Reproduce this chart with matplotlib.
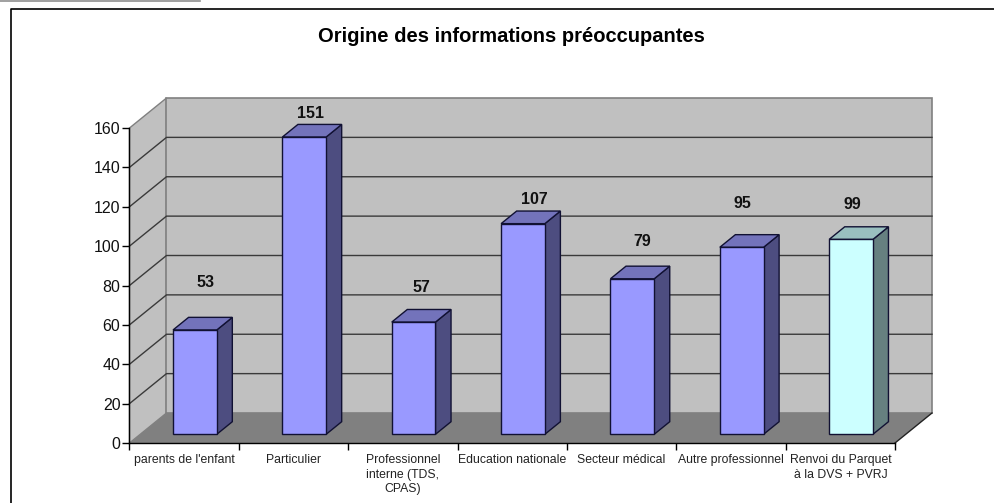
import matplotlib
matplotlib.use("Agg")
import matplotlib.pyplot as plt

plt.rcParams["font.family"] = ["Liberation Sans", "DejaVu Sans"]

categories = ["parents de l'enfant", "Particulier", "Professionnel\ninterne (TDS,\nCPAS)",
              "Education nationale", "Secteur médical", "Autre professionnel",
              "Renvoi du Parquet\nà la DVS + PVRJ"]
values = [53, 151, 57, 107, 79, 95, 99]
yticks = [0, 20, 40, 60, 80, 100, 120, 140, 160]

# pixel offset of each label from the top of the bar front
label_gaps = [47, 24, 35, 24, 37, 44, 35]
label_shift = [3, -2, 0, 4, 2, -7, -6]

face = ["#9999FF"] * 6 + ["#CCFFFF"]
side = ["#4D4D80"] * 6 + ["#668080"]
top = ["#7373BB"] * 6 + ["#99BFBF"]

W, H = 995, 503
fig = plt.figure(figsize=(W / 100, H / 100), dpi=100)
ax = fig.add_axes([129.5 / W, 1 - 443 / H, 765.5 / W, 315 / H])
ax.set_xlim(0, 7)
ax.set_ylim(0, 160)

# 3d look: how far the back wall is shifted, in data units
dx = 37 / 109.36
dy = 30 / (315 / 160)
bar_w = 0.40
d0, d1 = 0.29, 0.71


def poly(xs, ys, color, ec="none", lw=0, z=1):
    ax.fill(xs, ys, facecolor=color, edgecolor=ec, linewidth=lw, clip_on=False, zorder=z)


# walls and floor
poly([0, dx, dx, 0], [0, dy, 160 + dy, 160], "#C0C0C0", "#808080", 1, 1)
poly([dx, 7 + dx, 7 + dx, dx], [dy, dy, 160 + dy, 160 + dy], "#C0C0C0", "#808080", 1.2, 1)
poly([0, 7, 7 + dx, dx], [0, 0, dy, dy], "#808080", z=2)
ax.plot([7, 7 + dx], [0, dy], color="#222222", lw=1, clip_on=False, zorder=3)

for v in yticks[1:-1]:
    ax.plot([0, dx, 7 + dx], [v, v + dy, v + dy], color="#3A3A3A", lw=1, clip_on=False, zorder=2)

# bars
for i, v in enumerate(values):
    x0 = i + 0.5 - bar_w / 2 + d0 * dx
    x1 = x0 + bar_w
    y0 = d0 * dy
    sx = (d1 - d0) * dx
    sy = (d1 - d0) * dy
    y1 = v + y0
    poly([x1, x1 + sx, x1 + sx, x1], [y0, y0 + sy, y1 + sy, y1], side[i], "#111133", 1, 4)
    poly([x0, x1, x1 + sx, x0 + sx], [y1, y1, y1 + sy, y1 + sy], top[i], "#111133", 1, 4)
    poly([x0, x1, x1, x0], [y0, y0, y1, y1], face[i], "#111133", 1, 5)
    ax.annotate(str(v), xy=(x0 + (bar_w + sx) / 2, y1), xytext=(label_shift[i], label_gaps[i]),
                textcoords="offset pixels", ha="center", va="center",
                fontsize=11.5, fontweight="bold", color="#111111", zorder=6, annotation_clip=False)

for s in ["top", "right"]:
    ax.spines[s].set_visible(False)
for s in ["left", "bottom"]:
    ax.spines[s].set_color("black")
    ax.spines[s].set_linewidth(1)
    ax.spines[s].set_zorder(6)

ax.set_yticks(yticks)
ax.tick_params(axis="y", length=5, width=1, labelsize=11.5, pad=1.5, labelcolor="#111111")
ax.set_xticks(range(8))
ax.set_xticklabels([])
ax.set_xticks([i + 0.5 for i in range(7)], minor=True)
ax.set_xticklabels(categories, minor=True, fontsize=8.8, color="#222222", linespacing=1.28)
ax.tick_params(axis="x", which="major", length=5, width=1)
ax.tick_params(axis="x", which="minor", length=0, pad=8)

fig.text(511 / W, 1 - 36 / H, "Origine des informations préoccupantes", ha="center", va="center",
         fontsize=14.5, fontweight="bold", color="black")

# outer frame running off the page, grey rule on top
fig.add_artist(plt.Line2D([11.5 / W, 11.5 / W, 1], [0, 1 - 9 / H, 1 - 9 / H], color="black", lw=1.2))
fig.add_artist(plt.Line2D([0, 200 / W], [1 - 0.5 / H, 1 - 0.5 / H], color="#909090", lw=1.2))

fig.savefig("out.png", dpi=100)
